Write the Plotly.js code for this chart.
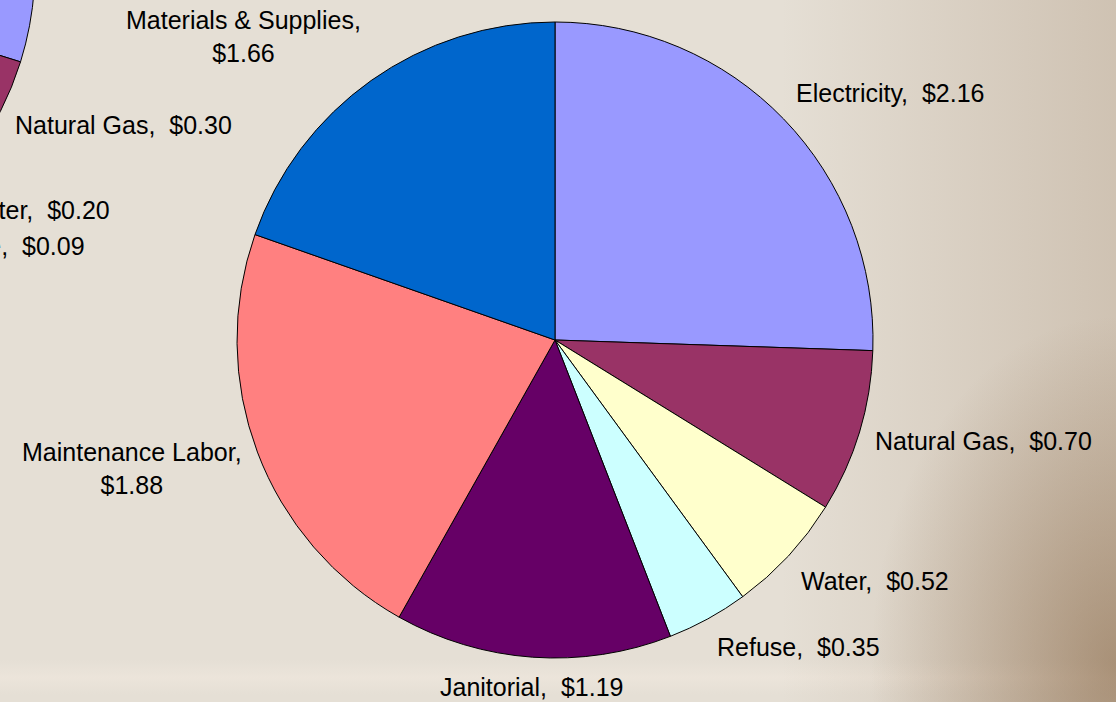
<!DOCTYPE html>
<html>
<head>
<meta charset="utf-8">
<script src="https://cdn.plot.ly/plotly-3.0.1.min.js"></script>
<style>
  html, body { margin:0; padding:0; width:1116px; height:702px; overflow:hidden; }
  body {
    position: relative;
    background:
      radial-gradient(ellipse 22% 50% at 100% 95%, rgba(130,95,60,0.5), rgba(130,95,60,0) 100%),
      linear-gradient(to right, rgba(150,120,90,0) 70%, rgba(150,120,90,0.28) 100%),
      linear-gradient(to bottom, rgba(255,255,255,0) 0%, rgba(255,255,255,0) 94%, rgba(240,232,222,0.6) 96.5%, rgba(255,255,255,0) 99%),
      #E5DFD5;
  }
  #chart { position:absolute; }
</style>
</head>
<body>
<div id="chart"></div>
<script>
// ---- data ----
const categories = ["Electricity", "Natural Gas", "Water", "Refuse", "Janitorial", "Maintenance Labor", "Materials & Supplies"];
const mainValues = [2.16, 0.70, 0.52, 0.35, 1.19, 1.88, 1.66];
const leftValues = [1.67, 0.30, 0.20, 0.09, 0.80, 1.45, 1.09];
const sliceColors = ["#9999FF", "#993366", "#FFFFCC", "#CCFFFF", "#660066", "#FF8080", "#0066CC"];

// ---- geometry ----
const W = 1116, H = 702;
const OX = 640, OY = 380;          // the plot extends off-screen to the left/top
const DW = W + OX, DH = H + OY;
const R = 318;                      // pie radius in px
const mainCenter = [555, 340];
const leftCenter = [-283, -33];
const LABEL_GAP = 14;
const FONT_SIZE = 25;

const div = document.getElementById('chart');
div.style.left = (-OX) + 'px';
div.style.top = (-OY) + 'px';
div.style.width = DW + 'px';
div.style.height = DH + 'px';

function domainFor(c) {
  const x = c[0] + OX, y = c[1] + OY;
  return { x: [(x - R) / DW, (x + R) / DW], y: [(DH - y - R) / DH, (DH - y + R) / DH] };
}

function pieTrace(values, center) {
  return {
    type: 'pie',
    labels: categories,
    values: values,
    sort: false,
    direction: 'clockwise',
    rotation: 0,
    textinfo: 'none',
    hoverinfo: 'skip',
    showlegend: false,
    domain: domainFor(center),
    marker: { colors: sliceColors, line: { color: '#000000', width: 1 } }
  };
}

function labelAnnotations(values, center) {
  const total = values.reduce((a, b) => a + b, 0);
  let cum = 0;
  const out = [];
  values.forEach((v, i) => {
    const frac = v / total;
    const mid = (cum + frac / 2) * 2 * Math.PI;
    cum += frac;
    const s = Math.sin(mid), c = Math.cos(mid);
    const px = center[0] + OX + (R + LABEL_GAP) * s;
    const py = center[1] + OY - (R + LABEL_GAP) * c;
    const xa = s > 0.35 ? 'left' : (s < -0.35 ? 'right' : 'center');
    const ya = c > 0.5 ? 'bottom' : (c < -0.5 ? 'top' : 'middle');
    const twoLines = xa === 'right';
    const sep = twoLines ? ',<br>' : ',\u00a0\u00a0';
    const boxH = (twoLines ? 2 : 1) * FONT_SIZE * 1.3;
    out.push({
      xref: 'paper', yref: 'paper',
      x: px / DW, y: 1 - py / DH,
      xanchor: xa, yanchor: ya,
      yshift: ya === 'middle' ? c * boxH / 2 : 0,
      text: categories[i] + sep + '$' + v.toFixed(2),
      showarrow: false, align: 'center',
      font: { family: 'Arial, "Liberation Sans", sans-serif', size: FONT_SIZE, color: '#000000' }
    });
  });
  return out;
}

const data = [pieTrace(mainValues, mainCenter), pieTrace(leftValues, leftCenter)];
const layout = {
  width: DW, height: DH,
  margin: { l: 0, r: 0, t: 0, b: 0 },
  paper_bgcolor: 'rgba(0,0,0,0)',
  plot_bgcolor: 'rgba(0,0,0,0)',
  showlegend: false,
  annotations: labelAnnotations(mainValues, mainCenter).concat(labelAnnotations(leftValues, leftCenter))
};
Plotly.newPlot(div, data, layout, { staticPlot: true, displayModeBar: false });
</script>
</body>
</html>
